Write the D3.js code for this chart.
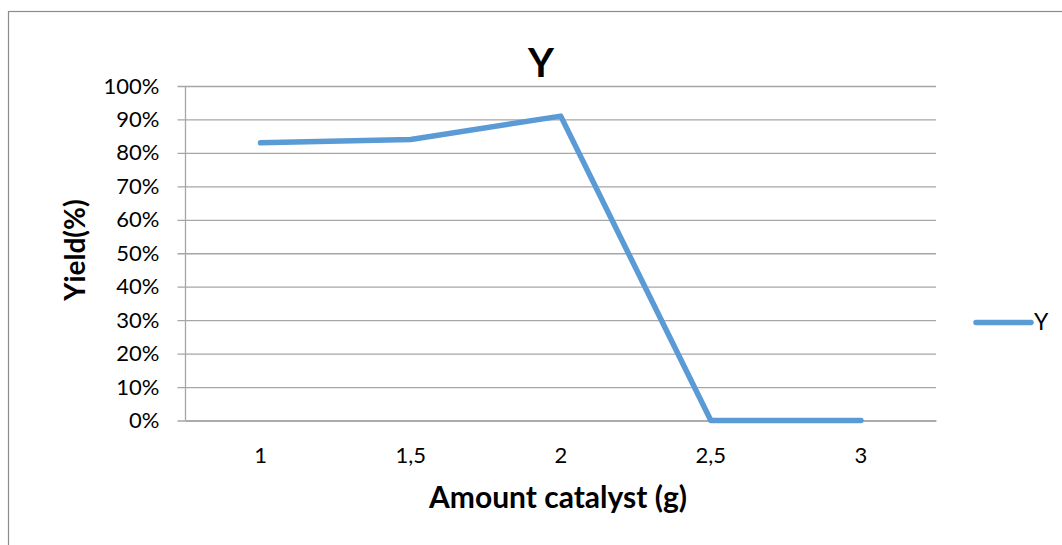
<!DOCTYPE html>
<html>
<head>
<meta charset="utf-8">
<script src="https://cdn.jsdelivr.net/npm/d3@7"></script>
<style>
  html, body { margin: 0; padding: 0; background: #fff; }
  svg { display: block; font-family: Lato, "Open Sans", sans-serif; }
</style>
</head>
<body>
<svg id="chart" width="1062" height="545"></svg>
<script>
// Catalyst amount (g) as category labels, yield as a fraction
const categories = ["1", "1,5", "2", "2,5", "3"];
const yieldValues = [0.83, 0.84, 0.91, 0, 0];
const yTicks = [0, 0.1, 0.2, 0.3, 0.4, 0.5, 0.6, 0.7, 0.8, 0.9, 1.0];
const seriesName = "Y";

const svg = d3.select("#chart");
const plot = { left: 185.5, right: 936, top: 86, bottom: 420.5 };
const lineColor = "#5B9BD5";
const gridColor = "#a6a6a6";
const tickFont = "22px";

// outer chart frame
svg.append("rect")
  .attr("x", 8.5).attr("y", 11.5)
  .attr("width", 1070).attr("height", 560)
  .attr("fill", "#fff").attr("stroke", "#8c8c8c").attr("stroke-width", 1.2);

const x = d3.scaleBand().domain(categories).range([plot.left, plot.right]).padding(0);
const y = d3.scaleLinear().domain([0, 1]).range([plot.bottom, plot.top]);

// horizontal gridlines + y tick labels
const yAxis = d3.axisLeft(y)
  .tickValues(yTicks)
  .tickFormat(d3.format(".0%"))
  .tickSize(plot.right - plot.left + 8)
  .tickPadding(18);
const gy = svg.append("g").attr("transform", `translate(${plot.right},0)`).call(yAxis);
gy.select(".domain").remove();
gy.selectAll(".tick line").attr("stroke", gridColor).attr("stroke-width", 1.3);
gy.selectAll(".tick text").attr("fill", "#000").style("font-size", tickFont).style("font-family", "Lato");

// vertical axis line
svg.append("line")
  .attr("x1", plot.left).attr("x2", plot.left)
  .attr("y1", plot.top).attr("y2", plot.bottom)
  .attr("stroke", gridColor).attr("stroke-width", 1.3);

// category axis
const xAxis = d3.axisBottom(x).tickSize(0).tickPadding(27);
const gx = svg.append("g").attr("transform", `translate(0,${plot.bottom})`).call(xAxis);
gx.select(".domain").attr("stroke", gridColor).attr("stroke-width", 1.3);
gx.selectAll(".tick text").attr("fill", "#000").style("font-size", tickFont).style("font-family", "Lato");

// yield line
const line = d3.line()
  .x((d, i) => x(categories[i]) + x.bandwidth() / 2)
  .y(d => y(d));
svg.append("path")
  .datum(yieldValues)
  .attr("d", line)
  .attr("fill", "none")
  .attr("stroke", lineColor)
  .attr("stroke-width", 5.5)
  .attr("stroke-linecap", "round")
  .attr("stroke-linejoin", "round");

// chart title
svg.append("text")
  .attr("x", 541).attr("y", 77)
  .attr("text-anchor", "middle")
  .style("font-size", "40px").style("font-weight", "bold")
  .text(seriesName);

// axis titles
svg.append("text")
  .attr("x", 558).attr("y", 508)
  .attr("text-anchor", "middle")
  .style("font-size", "30px").style("font-weight", "bold")
  .text("Amount catalyst (g)");

svg.append("text")
  .attr("transform", "translate(85,250) rotate(-90)")
  .attr("text-anchor", "middle")
  .style("font-size", "28px").style("font-weight", "bold")
  .text("Yield(%)");

// legend
svg.append("line")
  .attr("x1", 976).attr("x2", 1031)
  .attr("y1", 322.5).attr("y2", 322.5)
  .attr("stroke", lineColor).attr("stroke-width", 5.5)
  .attr("stroke-linecap", "round");
svg.append("text")
  .attr("x", 1034).attr("y", 330)
  .style("font-size", "23px")
  .text(seriesName);
</script>
</body>
</html>
